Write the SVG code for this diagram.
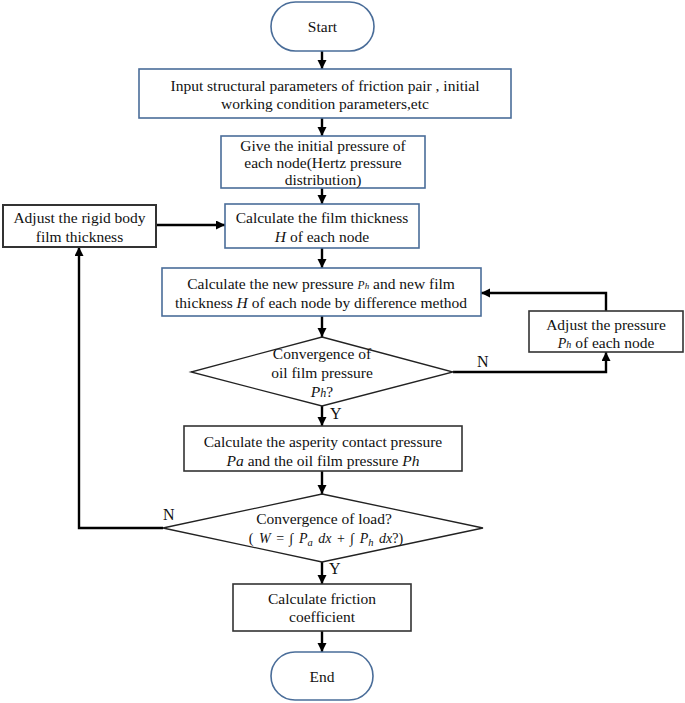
<svg xmlns="http://www.w3.org/2000/svg" width="685" height="703" viewBox="0 0 685 703">
<defs>
<marker id="ah" markerUnits="userSpaceOnUse" markerWidth="10" markerHeight="10" refX="9" refY="4.5" orient="auto">
<path d="M0,0 L9,4.5 L0,9 z" fill="#000"/>
</marker>
<style>
text{font-family:"Liberation Serif","Times New Roman",serif;font-size:15.5px;fill:#111;text-anchor:middle}
.blue{fill:#fff;stroke:#4a6d99;stroke-width:1.6}
.dark{fill:#fff;stroke:#333;stroke-width:1.6}
.thick{fill:#fff;stroke:#333;stroke-width:2}
.dia{fill:#fff;stroke:#222;stroke-width:1.3}
.con{fill:none;stroke:#000;stroke-width:2.4}
.arr{marker-end:url(#ah)}
.it{font-style:italic}
.math{font-size:14px;word-spacing:2px}
.lbl{text-anchor:start;font-size:16px}
</style>
</defs>
<rect width="685" height="703" fill="#fff"/>

<g id="connectors">
<line class="con arr" x1="322" y1="51" x2="322" y2="69"/>
<line class="con arr" x1="322" y1="118" x2="322" y2="136"/>
<line class="con arr" x1="322" y1="188" x2="322" y2="204"/>
<line class="con arr" x1="156" y1="225" x2="225" y2="225"/>
<line class="con arr" x1="322" y1="248" x2="322" y2="268"/>
<line class="con arr" x1="322" y1="316" x2="322" y2="337"/>
<polyline class="con arr" points="453,372 606,372 606,352"/>
<polyline class="con arr" points="606,311 606,293 481,293"/>
<line class="con arr" x1="322" y1="406" x2="322" y2="426"/>
<line class="con arr" x1="322" y1="471" x2="322" y2="494"/>
<polyline class="con arr" points="163,528 79,528 79,247"/>
<line class="con arr" x1="322" y1="562" x2="322" y2="584"/>
<line class="con arr" x1="322" y1="631" x2="322" y2="652"/>
<text class="lbl" x="477" y="367">N</text>
<text class="lbl" x="330" y="419">Y</text>
<text class="lbl" x="163" y="520">N</text>
<text class="lbl" x="329" y="574">Y</text>
</g>

<g id="start">
<rect class="blue" x="271" y="2" width="103" height="49" rx="24.5"/>
<text x="322.5" y="32">Start</text>
</g>

<g id="input">
<rect class="blue" x="139" y="69" width="372" height="49"/>
<text x="325" y="91">Input structural parameters of friction pair , initial</text>
<text x="325" y="109">working condition parameters,etc</text>
</g>

<g id="initial-pressure">
<rect class="blue" x="221" y="136" width="204" height="52"/>
<text x="323" y="151">Give the initial pressure of</text>
<text x="323" y="168">each node(Hertz pressure</text>
<text x="323" y="185">distribution)</text>
</g>

<g id="film-thickness">
<rect class="blue" x="225" y="204" width="194" height="44"/>
<text x="322" y="223">Calculate the film thickness</text>
<text x="322" y="242"><tspan class="it">H</tspan> of each node</text>
</g>

<g id="rigid-body">
<rect class="thick" x="3" y="205" width="153" height="42"/>
<text x="79.5" y="223">Adjust the rigid body</text>
<text x="79.5" y="242">film thickness</text>
</g>

<g id="new-pressure">
<rect class="blue" x="162" y="268" width="319" height="48"/>
<text x="321" y="289">Calculate the new pressure <tspan class="it" font-size="11.5">P</tspan><tspan class="it" font-size="9">h</tspan> and new film</text>
<text x="321" y="308">thickness <tspan class="it">H</tspan> of each node by difference method</text>
</g>

<g id="adjust-pressure">
<rect class="dark" x="529" y="311" width="154" height="41"/>
<text x="606" y="330">Adjust the pressure</text>
<text x="606" y="348"><tspan class="it" font-size="14">P</tspan><tspan class="it" font-size="10">h</tspan>  of each node</text>
</g>

<g id="oil-film-check">
<polygon class="dia" points="322,337 453,372 322,406 191,372"/>
<text x="322" y="359">Convergence of</text>
<text x="322" y="378">oil film pressure</text>
<text x="322" y="397"><tspan class="it">P</tspan><tspan class="it" font-size="12">h</tspan>?</text>
</g>

<g id="asperity">
<rect class="dark" x="184" y="426" width="278" height="45"/>
<text x="323" y="447">Calculate the asperity contact pressure</text>
<text x="323" y="466"><tspan class="it">Pa</tspan> and the oil film pressure <tspan class="it">Ph</tspan></text>
</g>

<g id="load-check">
<polygon class="dia" points="322,494 483,528 322,562 163,528"/>
<text x="324" y="524">Convergence of load?</text>
<text class="math" x="326" y="543">( <tspan class="it">W</tspan> = ∫ <tspan class="it">P</tspan><tspan class="it" font-size="10.5" dy="3">a</tspan><tspan dy="-3"> </tspan><tspan class="it">dx</tspan> + ∫ <tspan class="it">P</tspan><tspan class="it" font-size="10.5" dy="3">h</tspan><tspan dy="-3"> </tspan><tspan class="it">dx</tspan>?)</text>
</g>

<g id="friction">
<rect class="dark" x="233" y="584" width="178" height="47"/>
<text x="322" y="604">Calculate friction</text>
<text x="322" y="622">coefficient</text>
</g>

<g id="end">
<rect class="blue" x="271" y="652" width="102" height="48" rx="24"/>
<text x="322" y="682">End</text>
</g>
</svg>
